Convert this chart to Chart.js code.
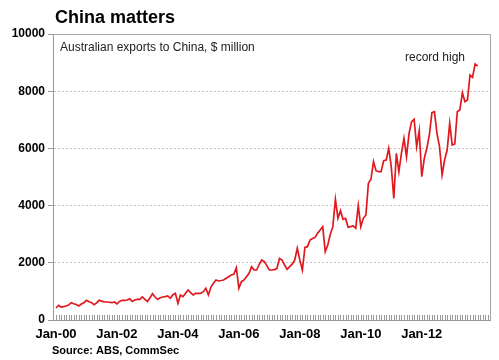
<!DOCTYPE html>
<html>
<head>
<meta charset="utf-8">
<script src="https://cdn.jsdelivr.net/npm/chart.js@4/dist/chart.umd.min.js"></script>
<style>
  html, body { margin: 0; padding: 0; background: #fff; }
  #wrap { width: 499px; height: 360px; position: relative; }
</style>
</head>
<body>
<div id="wrap"><canvas id="c" width="499" height="360"></canvas></div>
<script>
// ---- Data (Australian exports to China, $ million, monthly Jan-00 .. Nov-13) ----
const years = ['00','01','02','03','04','05','06','07','08','09','10','11','12','13'];
const monthNames = ['Jan','Feb','Mar','Apr','May','Jun','Jul','Aug','Sep','Oct','Nov','Dec'];

const exp2000 = [420, 514, 455, 470, 490, 520, 605, 570, 540, 490, 560, 605];
const exp2001 = [689, 640, 605, 535, 600, 689, 660, 630, 630, 620, 605, 630];
const exp2002 = [560, 650, 689, 689, 700, 745, 650, 700, 720, 720, 804, 720];
const exp2003 = [650, 780, 920, 804, 720, 780, 804, 815, 840, 760, 874, 932];
const exp2004 = [583, 874, 815, 932, 1049, 960, 874, 932, 932, 932, 990, 1108];
const exp2005 = [874, 1150, 1282, 1399, 1364, 1380, 1399, 1458, 1515, 1573, 1600, 1830];
const exp2006 = [1108, 1340, 1399, 1515, 1632, 1865, 1748, 1748, 1940, 2098, 2040, 1900];
const exp2007 = [1748, 1748, 1760, 1807, 2156, 2098, 1923, 1772, 1865, 1950, 2098, 2506];
const exp2008 = [2098, 1748, 2540, 2564, 2797, 2850, 2890, 3030, 3150, 3263, 2389, 2622];
const exp2009 = [3000, 3263, 4218, 3555, 3822, 3520, 3555, 3240, 3263, 3287, 3205, 4000];
const exp2010 = [3263, 3555, 3671, 4780, 4920, 5535, 5220, 5185, 5185, 5570, 5594, 6003];
const exp2011 = [5360, 4255, 5828, 5185, 5828, 6352, 5710, 6527, 6934, 7016, 6059, 6619];
const exp2012 = [5011, 5653, 6003, 6469, 7250, 7284, 6527, 6059, 5070, 5594, 5944, 6876];
const exp2013 = [6119, 6154, 7284, 7343, 7948, 7634, 7692, 8566, 8485, 8951, 8881];

const xTickLabels = ['Jan-00', 'Jan-02', 'Jan-04', 'Jan-06', 'Jan-08', 'Jan-10', 'Jan-12'];
const xTickMonths = [0, 24, 48, 72, 96, 120, 144];
const yTickValues = [0, 2000, 4000, 6000, 8000, 10000];

// ---- Build table for the library ----
const exportsAll = [].concat(exp2000, exp2001, exp2002, exp2003, exp2004, exp2005, exp2006,
  exp2007, exp2008, exp2009, exp2010, exp2011, exp2012, exp2013);
const categories = [];
years.forEach(y => monthNames.forEach(m => categories.push(m + '-' + y)));
const points = exportsAll.map((v, i) => ({ x: i, y: v }));

const FONT = "'Liberation Sans', Arial, Helvetica, sans-serif";

const decor = {
  id: 'decor',
  afterDraw(chart) {
    const { ctx, chartArea: a, scales } = chart;
    const xs = scales.x;
    ctx.save();
    // plot border (top & right)
    ctx.strokeStyle = '#a6a6a6';
    ctx.lineWidth = 1;
    ctx.beginPath();
    ctx.moveTo(a.left, a.top + 0.5);
    ctx.lineTo(a.right + 0.5, a.top + 0.5);
    ctx.lineTo(a.right + 0.5, a.bottom);
    ctx.stroke();
    // monthly minor tick marks (inside, pointing up)
    ctx.strokeStyle = '#9a9a9a';
    ctx.beginPath();
    for (let i = 0; i < categories.length + 3; i++) {
      const px = Math.round(xs.getPixelForValue(i)) + 0.5;
      if (px > a.right) break;
      ctx.moveTo(px, a.bottom);
      ctx.lineTo(px, a.bottom - 5);
    }
    ctx.stroke();
    // texts
    ctx.fillStyle = '#000';
    ctx.textBaseline = 'middle';
    ctx.textAlign = 'left';
    ctx.font = 'bold 18px ' + FONT;
    ctx.fillText('China matters', 55, 18);
    ctx.fillStyle = '#222';
    ctx.font = '12px ' + FONT;
    ctx.fillText('Australian exports to China, $ million', 60, 48);
    ctx.fillText('record high', 405, 58);
    ctx.fillStyle = '#000';
    ctx.font = 'bold 11px ' + FONT;
    ctx.fillText('Source: ABS, CommSec', 52, 351);
    ctx.restore();
  }
};

new Chart(document.getElementById('c'), {
  type: 'line',
  data: {
    datasets: [{
      label: 'Australian exports to China',
      data: points,
      borderColor: '#e0191e',
      borderWidth: 1.7,
      pointRadius: 0,
      tension: 0,
      fill: false
    }]
  },
  options: {
    responsive: false,
    animation: false,
    devicePixelRatio: 1,
    layout: { padding: { top: 34, right: 9, left: 0, bottom: 0 } },
    plugins: { legend: { display: false }, tooltip: { enabled: false }, title: { display: false } },
    scales: {
      x: {
        type: 'linear',
        min: -1.18,
        max: 170.87,
        afterFit(s) { s.height = 40; },
        afterBuildTicks(s) { s.ticks = xTickMonths.map(v => ({ value: v })); },
        grid: { display: false, drawTicks: false },
        border: { display: true, color: '#9a9a9a', width: 1 },
        ticks: {
          autoSkip: false,
          maxRotation: 0,
          padding: 7,
          color: '#000',
          font: { family: FONT, size: 13, weight: 'bold' },
          callback(v) { const k = xTickMonths.indexOf(v); return k >= 0 ? xTickLabels[k] : ''; }
        }
      },
      y: {
        min: 0,
        max: 10000,
        afterFit(s) { s.width = 53; },
        afterBuildTicks(s) { s.ticks = yTickValues.map(v => ({ value: v })); },
        grid: { color: '#c4c4c4', tickColor: '#9a9a9a', tickLength: 5, lineWidth: 1 },
        border: { display: true, color: '#9a9a9a', width: 1, dash: [2, 2] },
        ticks: {
          padding: 3,
          color: '#000',
          font: { family: FONT, size: 12, weight: 'bold' },
          callback(v) { return String(v); }
        }
      }
    }
  },
  plugins: [decor]
});
</script>
</body>
</html>
